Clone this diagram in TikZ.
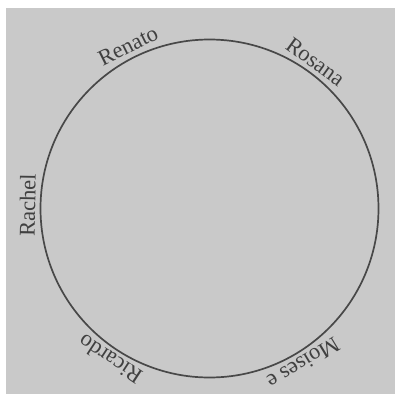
\documentclass[tikz,border=0pt]{standalone}
\usepackage{fontspec}
\setmainfont{Liberation Serif}
\definecolor{bggray}{HTML}{C9C9C9}
\definecolor{ink}{HTML}{484848}
\definecolor{txt}{HTML}{404040}
\begin{document}
\begin{tikzpicture}[x=1pt,y=-1pt,
  namelabel/.style={text=txt,inner sep=0pt,font=\fontsize{22.5}{26}\selectfont}]
\useasboundingbox (0,0) rectangle (397,394);
\fill[bggray] (6,8) rectangle (395,394);
\node[circle,draw=ink,line width=1.7pt,minimum size=338pt,inner sep=0pt] (ring) at (209.5,208.5) {};
\node[namelabel,rotate=26.6] (renato) at ([shift={(116.6:182pt)}]ring.center) {Renato};
\node[namelabel,rotate=-35.8] (rosana) at ([shift={(54.2:181pt)}]ring.center) {Rosana};
\node[namelabel,rotate=89] (rachel) at ([shift={(179:182pt)}]ring.center) {Rachel};
\node[namelabel,rotate=146.7] (ricardo) at ([shift={(236.7:181pt)}]ring.center) {Ricardo};
\node[namelabel,rotate=211.2] (moises) at ([shift={(301.2:181pt)}]ring.center) {Moises e};
\end{tikzpicture}
\end{document}
